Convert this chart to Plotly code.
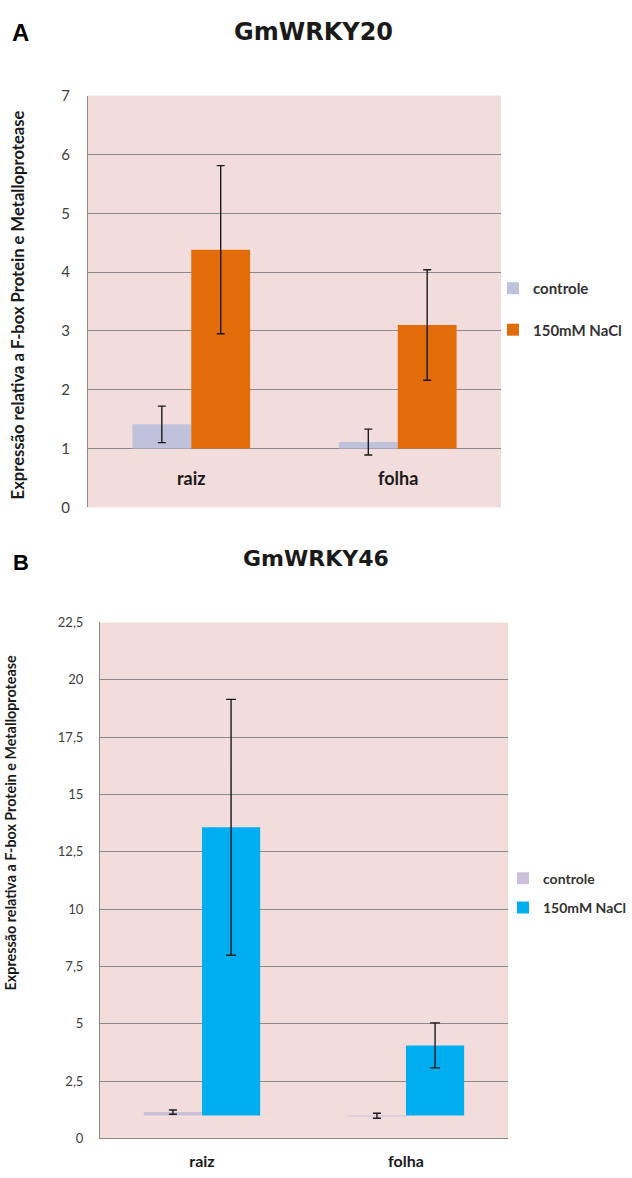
import plotly.graph_objects as go

categories = ["raiz", "folha"]
series_names = ["controle", "150mM NaCl"]

# Panel A: GmWRKY20
a_controle = [1.41, 1.11]
a_controle_err = [0.31, 0.22]
a_nacl = [4.38, 3.10]
a_nacl_err = [1.43, 0.94]
a_yticks = [0, 1, 2, 3, 4, 5, 6, 7]
a_yticklabels = ["0", "1", "2", "3", "4", "5", "6", "7"]

# Panel B: GmWRKY46
b_controle = [1.15, 0.99]
b_controle_err = [0.09, 0.11]
b_nacl = [13.57, 4.06]
b_nacl_err = [5.58, 0.98]
b_yticks = [0, 2.5, 5, 7.5, 10, 12.5, 15, 17.5, 20, 22.5]
b_yticklabels = ["0", "2,5", "5", "7,5", "10", "12,5", "15", "17,5", "20", "22,5"]

baseline = 1.0  # horizontal axis crosses at 1
ytitle = "Expressão relativa a F-box Protein e Metalloprotease"

W, H = 632, 1178
def px_x(v):
    return v / W
def px_y(v):
    return 1 - v / H

grey = "#8a8a8a"
bg = "#F2DDDC"

fig = go.Figure()

def add_bar(name, vals, errs, color, xa, ya, legend, group, cap, show=True):
    fig.add_trace(go.Bar(
        x=categories, y=[v - baseline for v in vals], base=[baseline] * len(vals),
        name=name, marker=dict(color=color, line=dict(width=0)),
        error_y=dict(type="data", array=errs, color="#1a1a1a", thickness=1.4, width=cap),
        xaxis=xa, yaxis=ya, legend=legend, legendgroup=group, showlegend=show,
    ))

add_bar(series_names[0], a_controle, a_controle_err, "#C0C2DB", "x", "y", "legend", "a1", 4)
add_bar(series_names[1], a_nacl, a_nacl_err, "#E26B0A", "x", "y", "legend", "a2", 4)
add_bar(series_names[0], b_controle, b_controle_err, "#CBC0DA", "x2", "y2", "legend2", "b1", 4)
add_bar(series_names[1], b_nacl, b_nacl_err, "#00AEEF", "x2", "y2", "legend2", "b2", 5)

fig.update_layout(
    width=W, height=H,
    margin=dict(l=0, r=0, t=0, b=0),
    paper_bgcolor="white", plot_bgcolor=bg,
    barmode="group", bargap=0.43, bargroupgap=0,
    separators=",.",
    font=dict(family="Lato", color="#333333"),
    xaxis=dict(domain=[px_x(88), px_x(501)], anchor="y", type="category",
               categoryorder="array", categoryarray=categories,
               range=[-0.5, 1.5], showticklabels=False, showgrid=False,
               zeroline=False, showline=False, fixedrange=True),
    yaxis=dict(domain=[px_y(505), px_y(87)], anchor="x", range=[0, 7],
               tickvals=a_yticks, ticktext=a_yticklabels,
               tickfont=dict(size=15, color="#404040", family="Lato"),
               ticks="outside", ticklen=0, ticklabelstandoff=14,
               showgrid=True, gridcolor=grey, gridwidth=1,
               showline=True, linecolor=grey, linewidth=1, zeroline=False, fixedrange=True),
    xaxis2=dict(domain=[px_x(100), px_x(508)], anchor="y2", type="category",
                categoryorder="array", categoryarray=categories,
                range=[-0.5, 1.5], tickvals=categories,
                ticktext=["<b>%s</b>" % c for c in categories],
                tickfont=dict(size=16, color="#1a1a1a", family="Lato"),
                ticks="outside", ticklen=0, ticklabelstandoff=8,
                showgrid=False, zeroline=False, showline=True, linecolor=grey,
                linewidth=1, fixedrange=True),
    yaxis2=dict(domain=[px_y(1146), px_y(622)], anchor="x2", range=[0, 22.5],
                tickvals=b_yticks, ticktext=b_yticklabels,
                tickfont=dict(size=13, color="#404040", family="Lato"),
                ticks="outside", ticklen=0, ticklabelstandoff=13,
                showgrid=True, gridcolor=grey, gridwidth=1,
                showline=True, linecolor=grey, linewidth=1, zeroline=False, fixedrange=True),
    legend=dict(x=px_x(493), y=px_y(266), xanchor="left", yanchor="top",
                font=dict(size=15, family="Lato", color="#333333", weight="bold"),
                bgcolor="rgba(0,0,0,0)", tracegroupgap=19, traceorder="grouped"),
    legend2=dict(x=px_x(503), y=px_y(866), xanchor="left", yanchor="top",
                 font=dict(size=14, family="Lato", color="#333333", weight="bold"),
                 bgcolor="rgba(0,0,0,0)", tracegroupgap=8, traceorder="grouped"),
    showlegend=True,
)

annotations = [
    dict(text="<b>A</b>", x=px_x(20.5), y=px_y(22.5), font=dict(family="Liberation Sans", size=24, color="black")),
    dict(text="<b>GmWRKY20</b>", x=px_x(313), y=px_y(22), font=dict(family="DejaVu Sans", size=24, color="#1a1a1a")),
    dict(text="<b>B</b>", x=px_x(21), y=px_y(561), font=dict(family="Liberation Sans", size=22, color="black")),
    dict(text="<b>GmWRKY46</b>", x=px_x(316), y=px_y(557), font=dict(family="DejaVu Sans", size=22, color="#1a1a1a")),
    dict(text="<b>" + ytitle + "</b>", x=px_x(18), y=px_y(300), textangle=-90,
         font=dict(family="Lato", size=16.6, color="#1a1a1a")),
    dict(text="<b>" + ytitle + "</b>", x=px_x(10), y=px_y(826), textangle=-90,
         font=dict(family="Lato", size=14.3, color="#1a1a1a")),
]
for c in categories:
    annotations.append(dict(text="<b>%s</b>" % c, x=c, y=0.5, xref="x", yref="y",
                            font=dict(family="Lato", size=18, color="#1a1a1a")))
for a in annotations:
    a.setdefault("xref", "paper")
    a.setdefault("yref", "paper")
    a.update(showarrow=False, xanchor="center", yanchor="middle")
fig.update_layout(annotations=annotations)

fig.write_html(
    "out.html",
    config={"displayModeBar": False},
    post_script="document.documentElement.style.margin='0';document.body.style.margin='0';document.body.style.overflow='hidden';",
)
